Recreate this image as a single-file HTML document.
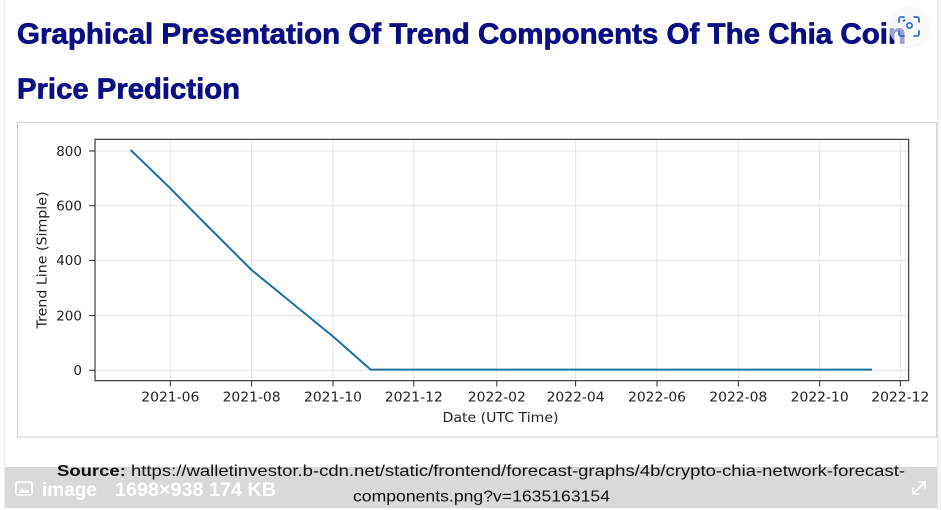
<!DOCTYPE html>
<html>
<head>
<meta charset="utf-8">
<style>
  html,body{margin:0;padding:0;background:#fff;}
  body{width:941px;height:510px;overflow:hidden;}
  svg{display:block;}
</style>
</head>
<body>
<svg width="941" height="510" viewBox="0 0 941 510" xmlns="http://www.w3.org/2000/svg">
  <rect x="0" y="0" width="941" height="510" fill="#ffffff"/>
  <rect x="937" y="0" width="4" height="510" fill="#f6f6f6"/>
  <line x1="4.5" y1="0" x2="4.5" y2="510" stroke="#ececec" stroke-width="1"/>
  <line x1="937.5" y1="0" x2="937.5" y2="510" stroke="#e4e4e4" stroke-width="1"/>

  <!-- Title -->
  <g font-family="Liberation Sans, Arial, sans-serif" font-weight="bold" font-size="29" fill="#0b0d83" stroke="#0b0d83" stroke-width="0.7" stroke-linejoin="round">
    <text x="17" y="43.5" textLength="889" lengthAdjust="spacingAndGlyphs">Graphical Presentation Of Trend Components Of The Chia Coin</text>
    <text x="17" y="98.7" textLength="223" lengthAdjust="spacingAndGlyphs">Price Prediction</text>
  </g>

  <!-- scan icon button -->
  <circle cx="909" cy="27" r="21" fill="#000" opacity="0.05"/>
  <circle cx="909" cy="26.5" r="20.5" fill="#ffffff" fill-opacity="0.62"/>
  <g fill="none" stroke="#2f6fd0" stroke-width="1.8" stroke-linecap="round">
    <path d="M899 22 v-3 a2 2 0 0 1 2 -2 h3"/>
    <path d="M914 17 h3 a2 2 0 0 1 2 2 v3"/>
    <path d="M919 31 v3 a2 2 0 0 1 -2 2 h-3"/>
    <path d="M904 36 h-3 a2 2 0 0 1 -2 -2 v-3"/>
    <circle cx="909.5" cy="25.5" r="2.6"/>
    <path d="M903.5 21 l1.2 -0.8"/>
  </g>

  <!-- Chart image box -->
  <rect x="17.5" y="122.5" width="919" height="314.5" fill="#ffffff" stroke="#d2d2d2" stroke-width="1"/>

  <!-- grid -->
  <g stroke="#e4e4e4" stroke-width="1">
    <line x1="95" y1="151" x2="908.7" y2="151"/>
    <line x1="95" y1="205.7" x2="908.7" y2="205.7"/>
    <line x1="95" y1="260.4" x2="908.7" y2="260.4"/>
    <line x1="95" y1="315.6" x2="908.7" y2="315.6"/>
    <line x1="95" y1="370.3" x2="908.7" y2="370.3"/>
    <line x1="170.3" y1="139.3" x2="170.3" y2="380.7"/>
    <line x1="251.6" y1="139.3" x2="251.6" y2="380.7"/>
    <line x1="333" y1="139.3" x2="333" y2="380.7"/>
    <line x1="413.8" y1="139.3" x2="413.8" y2="380.7"/>
    <line x1="496.8" y1="139.3" x2="496.8" y2="380.7"/>
    <line x1="575.6" y1="139.3" x2="575.6" y2="380.7"/>
    <line x1="657" y1="139.3" x2="657" y2="380.7"/>
    <line x1="738.3" y1="139.3" x2="738.3" y2="380.7"/>
    <line x1="819.7" y1="139.3" x2="819.7" y2="380.7"/>
    <line x1="900.3" y1="139.3" x2="900.3" y2="380.7"/>
  </g>

  <!-- series -->
  <polyline fill="none" stroke="#1c7399" stroke-width="2" stroke-linejoin="round"
    points="130.7,150 170.3,188.3 203,221.5 251.6,270 292,303 333.3,336.7 370.7,369.6 872,369.6"/>

  <!-- frame -->
  <rect x="95" y="139.3" width="813.7" height="241.4" fill="none" stroke="#2b2b2b" stroke-width="1.1"/>

  <!-- y ticks -->
  <g stroke="#2b2b2b" stroke-width="1">
    <line x1="89" y1="151" x2="95" y2="151"/>
    <line x1="89" y1="205.7" x2="95" y2="205.7"/>
    <line x1="89" y1="260.4" x2="95" y2="260.4"/>
    <line x1="89" y1="315.6" x2="95" y2="315.6"/>
    <line x1="89" y1="370.3" x2="95" y2="370.3"/>
  </g>
  <g font-family="DejaVu Sans, Liberation Sans, sans-serif" font-size="13.5" fill="#222" text-anchor="end">
    <text x="82" y="155.8">800</text>
    <text x="82" y="210.5">600</text>
    <text x="82" y="265.2">400</text>
    <text x="82" y="320.4">200</text>
    <text x="82" y="375.1">0</text>
  </g>

  <!-- x ticks -->
  <g stroke="#2b2b2b" stroke-width="1">
    <line x1="170.3" y1="380.7" x2="170.3" y2="386.5"/>
    <line x1="251.6" y1="380.7" x2="251.6" y2="386.5"/>
    <line x1="333" y1="380.7" x2="333" y2="386.5"/>
    <line x1="413.8" y1="380.7" x2="413.8" y2="386.5"/>
    <line x1="496.8" y1="380.7" x2="496.8" y2="386.5"/>
    <line x1="575.6" y1="380.7" x2="575.6" y2="386.5"/>
    <line x1="657" y1="380.7" x2="657" y2="386.5"/>
    <line x1="738.3" y1="380.7" x2="738.3" y2="386.5"/>
    <line x1="819.7" y1="380.7" x2="819.7" y2="386.5"/>
    <line x1="900.3" y1="380.7" x2="900.3" y2="386.5"/>
  </g>
  <g font-family="DejaVu Sans, Liberation Sans, sans-serif" font-size="13.5" fill="#222" text-anchor="middle">
    <text x="170.3" y="401.5" textLength="58" lengthAdjust="spacingAndGlyphs">2021-06</text>
    <text x="251.6" y="401.5" textLength="58" lengthAdjust="spacingAndGlyphs">2021-08</text>
    <text x="333" y="401.5" textLength="58" lengthAdjust="spacingAndGlyphs">2021-10</text>
    <text x="413.8" y="401.5" textLength="58" lengthAdjust="spacingAndGlyphs">2021-12</text>
    <text x="496.8" y="401.5" textLength="58" lengthAdjust="spacingAndGlyphs">2022-02</text>
    <text x="575.6" y="401.5" textLength="58" lengthAdjust="spacingAndGlyphs">2022-04</text>
    <text x="657" y="401.5" textLength="58" lengthAdjust="spacingAndGlyphs">2022-06</text>
    <text x="738.3" y="401.5" textLength="58" lengthAdjust="spacingAndGlyphs">2022-08</text>
    <text x="819.7" y="401.5" textLength="58" lengthAdjust="spacingAndGlyphs">2022-10</text>
    <text x="900.3" y="401.5" textLength="58" lengthAdjust="spacingAndGlyphs">2022-12</text>
    <text x="500.5" y="422" textLength="116" lengthAdjust="spacingAndGlyphs">Date (UTC Time)</text>
  </g>
  <text transform="translate(46.5,260) rotate(-90)" font-family="DejaVu Sans, Liberation Sans, sans-serif" font-size="13.5" fill="#222" text-anchor="middle" textLength="137" lengthAdjust="spacingAndGlyphs">Trend Line (Simple)</text>

  <!-- bottom gray bar -->
  <rect x="5" y="467" width="932" height="41" fill="#d9d9d9"/>
  <g fill="none" stroke="#ffffff" stroke-width="1.6">
    <rect x="16" y="482" width="16" height="13" rx="1.5"/>
  </g>
  <path d="M18 493 l4 -5 l3 3 l2 -2 l3 4 z" fill="#ffffff"/>
  <text x="42" y="496" font-family="Liberation Sans, Arial, sans-serif" font-weight="bold" font-size="19" fill="#ffffff" textLength="55" lengthAdjust="spacingAndGlyphs">image</text>
  <text x="115" y="496" font-family="Liberation Sans, Arial, sans-serif" font-weight="bold" font-size="19" fill="#ffffff" textLength="161" lengthAdjust="spacingAndGlyphs">1698×938 174 KB</text>
  <g stroke="#ffffff" stroke-width="1.6" fill="none" stroke-linecap="round">
    <path d="M913 494 L925 482"/>
    <path d="M919 482 h6 v6"/>
    <path d="M913 488 v6 h6"/>
  </g>

  <!-- source caption -->
  <text x="57" y="476" font-family="Liberation Sans, Arial, sans-serif" font-size="16" fill="#111" textLength="848" lengthAdjust="spacingAndGlyphs"><tspan font-weight="bold">Source:</tspan> https://walletinvestor.b-cdn.net/static/frontend/forecast-graphs/4b/crypto-chia-network-forecast-</text>
  <text x="353" y="501.5" font-family="Liberation Sans, Arial, sans-serif" font-size="16" fill="#111" textLength="257" lengthAdjust="spacingAndGlyphs">components.png?v=1635163154</text>
</svg>
</body>
</html>
